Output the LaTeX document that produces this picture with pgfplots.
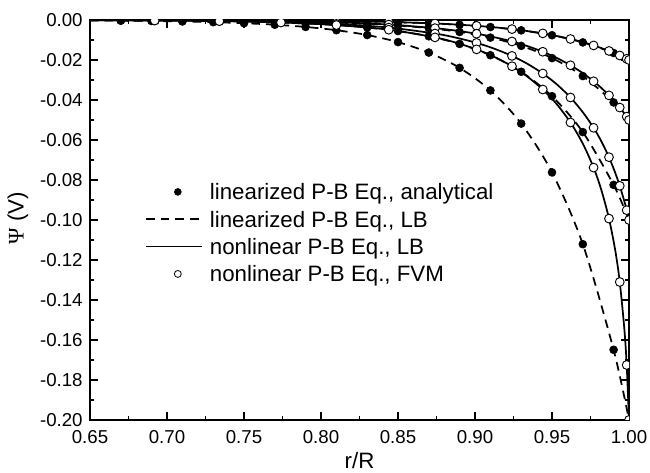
\documentclass[border=0pt]{standalone}
\usepackage{fontspec}
\setmainfont{Liberation Sans}
\newfontfamily\psifont{Liberation Serif}
\usepackage{pgfplots}
\usepackage{pgfplotstable}
\pgfplotsset{compat=1.18}
\newcommand\tickfont{\fontsize{14}{17}\selectfont}
\newcommand\labfont{\fontsize{16.7}{20}\selectfont}

% linearized P-B, LB (dashed) and analytical (dots) for surface potentials -0.02, -0.05, -0.1, -0.2 V
\pgfplotstableread{
x     l02      l05      l10      l20
0.65 -0.00002 -0.00006 -0.00012 -0.00023
0.67 -0.00003 -0.00009 -0.00017 -0.00034
0.69 -0.00005 -0.00013 -0.00025 -0.00050
0.71 -0.00007 -0.00019 -0.00037 -0.00074
0.73 -0.00011 -0.00027 -0.00055 -0.00109
0.75 -0.00016 -0.00040 -0.00080 -0.00161
0.77 -0.00024 -0.00059 -0.00118 -0.00236
0.79 -0.00035 -0.00087 -0.00174 -0.00348
0.81 -0.00051 -0.00128 -0.00256 -0.00511
0.83 -0.00075 -0.00188 -0.00376 -0.00752
0.85 -0.00111 -0.00277 -0.00553 -0.01106
0.87 -0.00163 -0.00407 -0.00814 -0.01628
0.89 -0.00239 -0.00599 -0.01197 -0.02394
0.91 -0.00352 -0.00880 -0.01761 -0.03522
0.93 -0.00518 -0.01295 -0.02590 -0.05180
0.95 -0.00762 -0.01905 -0.03810 -0.07620
0.97 -0.01121 -0.02803 -0.05605 -0.11210
0.99 -0.01649 -0.04123 -0.08245 -0.16490
1.00 -0.02000 -0.05000 -0.10000 -0.20000
}\linpb

% nonlinear P-B, LB (solid)
\pgfplotstableread{
x      n02      n05      n10      n20
0.650  -0.00002 -0.00005 -0.00009 -0.00011
0.692  -0.00005 -0.00012 -0.00020 -0.00026
0.734  -0.00012 -0.00027 -0.00046 -0.00058
0.774  -0.00025 -0.00059 -0.00098 -0.00126
0.810  -0.00050 -0.00118 -0.00197 -0.00252
0.844  -0.00097 -0.00228 -0.00379 -0.00486
0.874  -0.00174 -0.00408 -0.00678 -0.00869
0.888  -0.00228 -0.00535 -0.00890 -0.01142
0.901  -0.00292 -0.00687 -0.01145 -0.01470
0.912  -0.00362 -0.00851 -0.01420 -0.01825
0.924  -0.00456 -0.01074 -0.01795 -0.02313
0.934  -0.00553 -0.01305 -0.02190 -0.02830
0.944  -0.00671 -0.01587 -0.02674 -0.03475
0.953  -0.00799 -0.01894 -0.03210 -0.04200
0.962  -0.00951 -0.02264 -0.03875 -0.05125
0.970  -0.01111 -0.02658 -0.04610 -0.06180
0.977  -0.01273 -0.03064 -0.05390 -0.07380
0.982  -0.01404 -0.03396 -0.06060 -0.08490
0.987  -0.01548 -0.03770 -0.06860 -0.09930
0.991  -0.01674 -0.04104 -0.07630 -0.11490
0.994  -0.01776 -0.04378 -0.08290 -0.13100
0.997  -0.01884 -0.04676 -0.09070 -0.15470
0.9985 -0.01941 -0.04834 -0.09510 -0.17250
1.000  -0.02000 -0.05000 -0.10000 -0.20000
}\nonpb

% nonlinear P-B, FVM (open circles)
\pgfplotstableread{
x      f02      f05      f10      f20
0.692  -0.00005 -0.00012 -0.00020 -0.00026
0.734  -0.00012 -0.00027 -0.00046 -0.00058
0.774  -0.00025 -0.00059 -0.00098 -0.00126
0.810  -0.00050 -0.00118 -0.00197 -0.00252
0.844  -0.00097 -0.00228 -0.00379 -0.00486
0.874  -0.00174 -0.00408 -0.00678 -0.00869
0.901  -0.00292 -0.00687 -0.01145 -0.01470
0.924  -0.00456 -0.01074 -0.01795 -0.02313
0.944  -0.00671 -0.01587 -0.02674 -0.03475
0.962  -0.00951 -0.02264 -0.03875 -0.05125
0.977  -0.01273 -0.03064 -0.05390 -0.07380
0.987  -0.01548 -0.03770 -0.06860 -0.09930
0.994  -0.01776 -0.04378 -0.08290 -0.13100
0.9985 -0.01941 -0.04834 -0.09510 -0.17250
1.000  -0.02000 -0.05000 -0.10000 -0.20000
}\fvm

\begin{document}
\begin{tikzpicture}
\begin{axis}[
  scale only axis, width=404.25pt, height=300pt,
  xmin=0.65, xmax=1, ymin=-0.2, ymax=0,
  xtick={0.65,0.70,0.75,0.80,0.85,0.90,0.95,1.00},
  xticklabels={0.65,0.70,0.75,0.80,0.85,0.90,0.95,1.00},
  ytick={-0.20,-0.18,-0.16,-0.14,-0.12,-0.10,-0.08,-0.06,-0.04,-0.02,0},
  yticklabels={-0.20,-0.18,-0.16,-0.14,-0.12,-0.10,-0.08,-0.06,-0.04,-0.02,0.00},
  minor x tick num=1, minor y tick num=1,
  tick align=inside, major tick length=6pt, minor tick length=3pt,
  every tick/.style={black, line width=0.8pt},
  axis line style={line width=0.9pt},
  tick label style={font=\tickfont},
  label style={font=\labfont},
  xticklabel style={yshift=-4.5pt},
  yticklabel style={xshift=-2pt},
  xlabel={r/R}, ylabel={{\psifont Ψ} (V)},
  xlabel style={at={(axis description cs:0.5,-0.1225)}, anchor=base},
  ylabel style={at={(axis description cs:-0.1336,0.505)}, anchor=center},
  clip marker paths=true,
  legend cell align=left,
  legend style={draw=none, fill=none, at={(0.102,0.605)}, anchor=north west,
    font=\labfont, row sep=0pt, column sep=5.25pt, inner sep=0pt,
    nodes={inner sep=0pt, text height=16.25pt, text depth=4.25pt}},
  legend image code/.code={\draw[mark repeat=2,mark phase=2,#1] plot coordinates {(0pt,0pt) (23.8pt,0pt) (42pt,0pt)};},
  legend image post style={mark size=2.6pt},
]
\addlegendimage{only marks, mark=*, black}
\addlegendentry{linearized P-B Eq., analytical}
\addlegendimage{black, line width=1.3pt, dash pattern=on 6.5pt off 4.5pt}
\addlegendentry{linearized P-B Eq., LB}
\addlegendimage{black, line width=1.3pt}
\addlegendentry{nonlinear P-B Eq., LB}
\addlegendimage{only marks, mark=o, black, line width=0.6pt}
\addlegendentry{nonlinear P-B Eq., FVM}

\foreach \c in {l02,l05,l10,l20}{
  \addplot[forget plot, black, line width=1.3pt, dash pattern=on 6.5pt off 4.5pt, smooth]
    table[x=x, y=\c] {\linpb};
}
\foreach \c in {n02,n05,n10,n20}{
  \addplot[forget plot, black, line width=1.3pt, smooth]
    table[x=x, y=\c] {\nonpb};
}
\foreach \c in {l02,l05,l10,l20}{
  \addplot[forget plot, only marks, mark=*, mark size=3pt, black, restrict x to domain=0.66:0.995]
    table[x=x, y=\c] {\linpb};
}
\foreach \c in {f02,f05,f10,f20}{
  \addplot[forget plot, only marks, mark=*, mark size=3.3pt, draw=black, fill=white, line width=0.7pt]
    table[x=x, y=\c] {\fvm};
}
\end{axis}
\pgfresetboundingbox
\path[use as bounding box] (-67.5pt,-39.75pt) rectangle (420pt,315pt);
\end{tikzpicture}
\end{document}
